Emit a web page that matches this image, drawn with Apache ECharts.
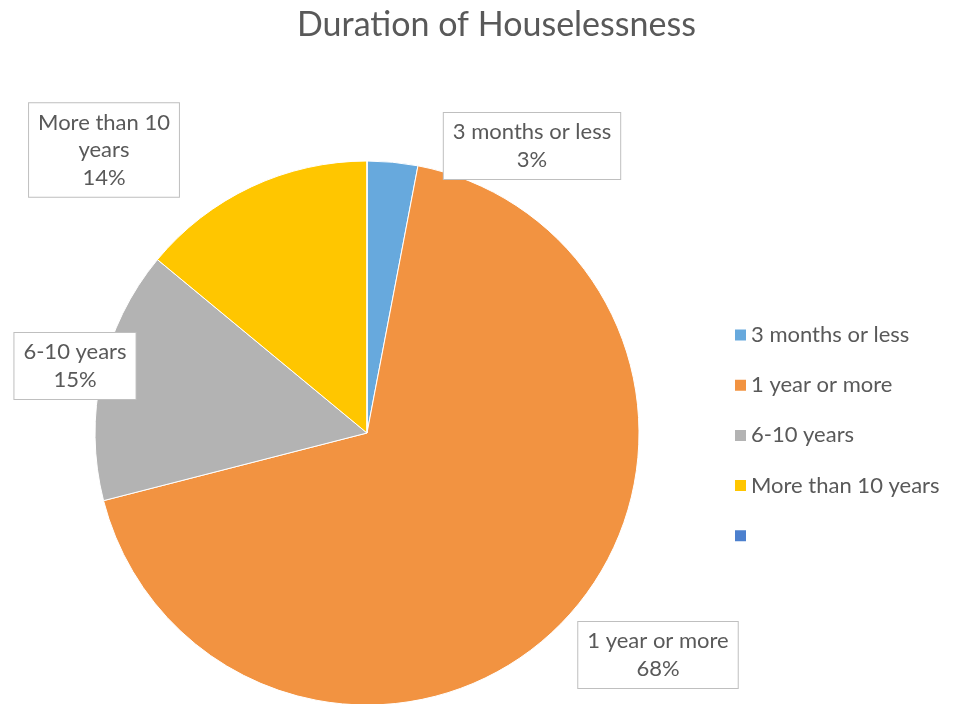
<!DOCTYPE html>
<html>
<head>
<meta charset="utf-8">
<script src="https://cdn.jsdelivr.net/npm/echarts@6/dist/echarts.min.js"></script>
<style>
    html, body { margin: 0; padding: 0; background: #fff; }
    #chart { width: 956px; height: 704px; }
</style>
</head>
<body>
<div id="chart"></div>
<script>
var chartTitle = 'Duration of Houselessness';
var categories = ['3 months or less', '1 year or more', '6-10 years', 'More than 10 years', ' '];
var shares = [3, 68, 15, 14, 0];
var colors = ['#67A9DD', '#F29341', '#B3B3B3', '#FFC600', '#4C80CE'];
// label box centres, as placed in the original
var labelSpots = [[532, 146], [658, 655], [75, 366], [104, 150]];
var labelTexts = ['3 months or less\n{d}%', '1 year or more\n{d}%', '6-10 years\n{d}%', 'More than 10\nyears\n{d}%'];

var textColor = '#595959';
var fontName = 'Lato, "Open Sans", sans-serif';

var pieData = [];
for (var i = 0; i < categories.length; i++) {
    var item = {
        name: categories[i],
        value: shares[i],
        itemStyle: {color: colors[i]}
    };
    if (i < labelTexts.length) {
        item.label = {formatter: labelTexts[i].replace('{d}', shares[i])};
    } else {
        item.label = {show: false};
    }
    pieData.push(item);
}

var chart = echarts.init(document.getElementById('chart'));
chart.setOption({
    animation: false,
    title: {
        text: chartTitle,
        left: 292,
        top: 3,
        textStyle: {
            color: textColor,
            fontFamily: fontName,
            fontSize: 34,
            fontWeight: 'normal'
        }
    },
    legend: {
        orient: 'vertical',
        left: 733,
        top: 324,
        padding: 0,
        itemWidth: 13,
        itemHeight: 13,
        itemGap: 28.2,
        icon: 'rect',
        data: categories,
        textStyle: {
            color: textColor,
            fontFamily: fontName,
            fontSize: 22,
            lineHeight: 20,
            padding: [0, 0, 0, -1]
        }
    },
    series: [{
        type: 'pie',
        center: [367, 433],
        radius: 272,
        startAngle: 90,
        clockwise: true,
        avoidLabelOverlap: false,
        stillShowZeroSum: false,
        itemStyle: {borderColor: '#fff', borderWidth: 1},
        labelLine: {show: false},
        label: {
            show: true,
            position: 'outside',
            color: textColor,
            fontFamily: fontName,
            fontSize: 22,
            lineHeight: 27.5,
            align: 'center',
            backgroundColor: '#fff',
            borderColor: '#BFBFBF',
            borderWidth: 1,
            padding: [6, 9, 5, 9]
        },
        labelLayout: function (params) {
            var spot = labelSpots[params.dataIndex];
            if (!spot) {
                return {};
            }
            return {x: spot[0], y: spot[1], align: 'center', verticalAlign: 'middle'};
        },
        emphasis: {disabled: true},
        data: pieData
    }]
});
</script>
</body>
</html>
